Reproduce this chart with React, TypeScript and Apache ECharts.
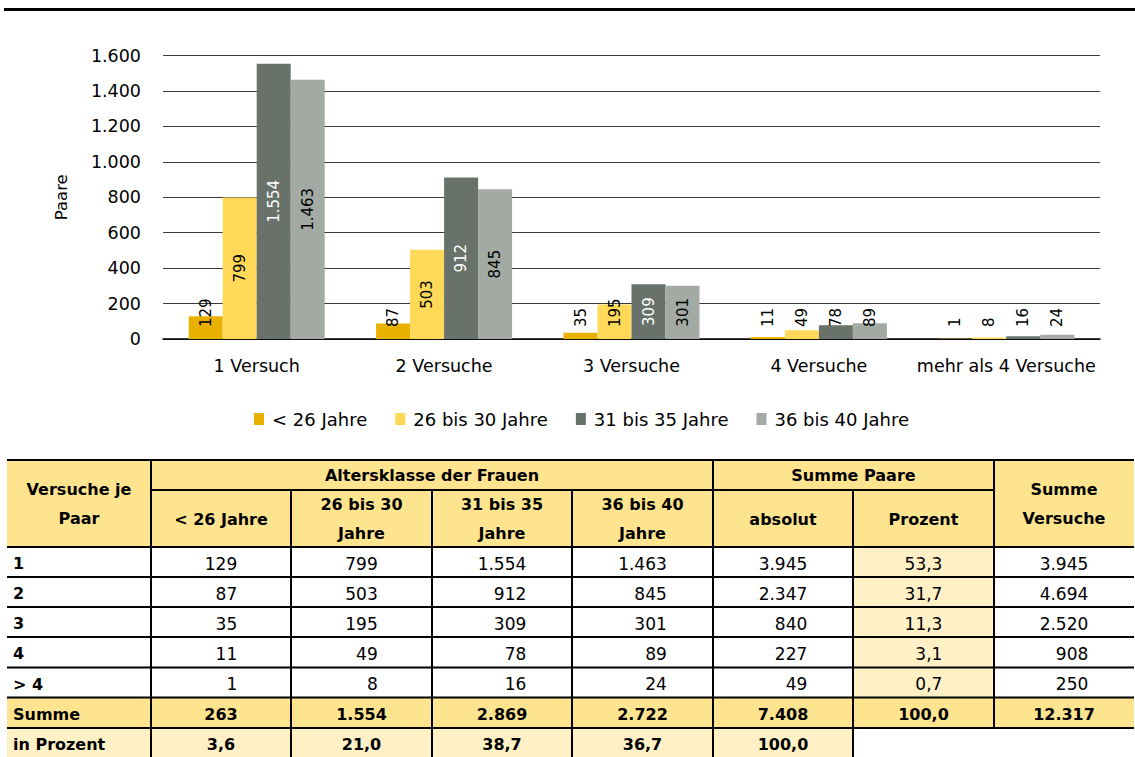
import React, { useEffect, useRef } from "react";
import * as echarts from "echarts";

const FONT = "DejaVu Sans";

// ---- chart data ----
const categories = ["1 Versuch", "2 Versuche", "3 Versuche", "4 Versuche", "mehr als 4 Versuche"];
const seriesNames = ["< 26 Jahre", "26 bis 30 Jahre", "31 bis 35 Jahre", "36 bis 40 Jahre"];
const under26 = [129, 87, 35, 11, 1];
const age26to30 = [799, 503, 195, 49, 8];
const age31to35 = [1554, 912, 309, 78, 16];
const age36to40 = [1463, 845, 301, 89, 24];
const yTicks = { min: 0, max: 1600, interval: 200 };

// ---- table data ----
const rowLabels = ["1", "2", "3", "4", "> 4"];
const sumPairs = [3945, 2347, 840, 227, 49];
const sumPairsPct = ["53,3", "31,7", "11,3", "3,1", "0,7"];
const sumAttempts = [3945, 4694, 2520, 908, 250];
const totals = [263, 1554, 2869, 2722, 7408];
const totalPct = "100,0";
const totalAttempts = 12317;
const pctRow = ["3,6", "21,0", "38,7", "36,7", "100,0"];
const headerTop = ["Versuche je\nPaar", "Altersklasse der Frauen", "Summe Paare", "Summe\nVersuche"];
const headerSub = ["< 26 Jahre", "26 bis 30\nJahre", "31 bis 35\nJahre", "36 bis 40\nJahre", "absolut", "Prozent"];
const footLabels = ["Summe", "in Prozent"];

const COLORS = ["#E8B100", "#FFD957", "#68726A", "#A3AAA4"];
const HEAD_BG = "#FFE490";
const LIGHT_BG = "#FFF0C6";

function fmt(n: number): string {
  return String(n).replace(/\B(?=(\d{3})+(?!\d))/g, ".");
}

function estWidth(s: string, size: number): number {
  let w = 0;
  for (const c of s) w += c === "." || c === "," ? 0.318 : 0.636;
  return w * size;
}

function makeSeries(name: string, values: number[], color: string, dark: boolean) {
  const inColor = dark ? "#ffffff" : "#000000";
  return {
    name,
    type: "bar",
    barWidth: 34,
    barGap: "0%",
    itemStyle: { color },
    emphasis: { disabled: true },
    label: {
      show: true,
      fontSize: 15,
      fontFamily: FONT,
      color: inColor,
      textBorderWidth: 0,
      formatter: (p: any) => fmt(p.value),
    },
    data: values.map((v) => {
      const inside = v >= 300;
      return {
        value: v,
        label: inside
          ? { position: ["50%", "50%"], rotate: 90, align: "center", verticalAlign: "middle", color: inColor, textBorderWidth: 0 }
          : { position: "insideBottom", distance: 12, rotate: 90, align: "left", verticalAlign: "middle", color: "#000000", textBorderWidth: 0 },
      };
    }),
  };
}

function buildTable(): any[] {
  const X = [7, 151, 291, 432, 572, 713, 853, 994, 1134];
  const T0 = 460;
  const T1 = 490;
  const H = 547;
  const rowY = [547, 577, 607, 637, 667.5, 697.5, 728, 757];
  const els: any[] = [];
  const texts: any[] = [];
  const lines: any[] = [];
  const rect = (x: number, y: number, w: number, h: number, fill: string) =>
    els.push({ type: "rect", shape: { x, y, width: w, height: h }, style: { fill }, silent: true });
  const line = (x1: number, y1: number, x2: number, y2: number) =>
    lines.push({ type: "line", shape: { x1, y1, x2, y2 }, style: { stroke: "#000", lineWidth: 2 }, silent: true });
  const text = (x: number, y: number, t: string, bold: boolean, align: string) =>
    texts.push({
      type: "text",
      x,
      y,
      silent: true,
      style: {
        text: t,
        fill: "#000",
        fontFamily: FONT,
        fontSize: bold ? 16 : 17,
        fontWeight: bold ? "bold" : "normal",
        align,
        verticalAlign: "middle",
        lineHeight: 29,
      },
    });

  // backgrounds
  rect(X[0], T0, X[8] - X[0], H - T0, HEAD_BG);
  rect(X[0], rowY[0], X[8] - X[0], rowY[5] - rowY[0], "#fff");
  rect(X[6], rowY[0], X[7] - X[6], rowY[5] - rowY[0], LIGHT_BG);
  rect(X[0], rowY[5], X[8] - X[0], rowY[6] - rowY[5], HEAD_BG);
  rect(X[0], rowY[6], X[6] - X[0], rowY[7] - rowY[6], LIGHT_BG);

  // horizontal lines
  line(X[0], T0, X[8], T0);
  line(X[1], T1, X[7], T1);
  for (let i = 0; i < 7; i++) line(X[0], rowY[i], X[8], rowY[i]);
  // vertical lines
  line(X[1], T0, X[1], 757);
  line(X[5], T0, X[5], 757);
  line(X[7], T0, X[7], rowY[6]);
  [2, 3, 4, 6].forEach((c) => line(X[c], T1, X[c], 757));

  const cx = (c: number) => (X[c] + X[c + 1]) / 2;

  // header
  text(cx(0), 503.5, headerTop[0], true, "center");
  text((X[1] + X[5]) / 2, 475, headerTop[1], true, "center");
  text((X[5] + X[7]) / 2, 475, headerTop[2], true, "center");
  text(cx(7), 503.5, headerTop[3], true, "center");
  headerSub.forEach((h, i) => text(cx(i + 1), 519, h, true, "center"));

  // data rows
  const rows: string[][] = rowLabels.map((_, i) => [
    fmt(under26[i]),
    fmt(age26to30[i]),
    fmt(age31to35[i]),
    fmt(age36to40[i]),
    fmt(sumPairs[i]),
    sumPairsPct[i],
    fmt(sumAttempts[i]),
  ]);
  const rightX = [0, 1, 2, 3, 4, 5, 6].map((c) => {
    const m = Math.max(...rows.map((r) => estWidth(r[c], 17)));
    return cx(c + 1) + m / 2;
  });
  rows.forEach((r, i) => {
    const yc = (rowY[i] + rowY[i + 1]) / 2 + 1.5;
    text(13, yc, rowLabels[i], true, "left");
    r.forEach((s, c) => text(rightX[c], yc, s, false, "right"));
  });

  // totals
  const yS = (rowY[5] + rowY[6]) / 2 + 1.5;
  text(13, yS, footLabels[0], true, "left");
  const totalCells = [...totals.map(fmt), totalPct, fmt(totalAttempts)];
  totalCells.forEach((s, c) => text(cx(c + 1), yS, s, true, "center"));
  const yP = (rowY[6] + rowY[7]) / 2 + 1.5;
  text(13, yP, footLabels[1], true, "left");
  pctRow.forEach((s, c) => text(cx(c + 1), yP, s, true, "center"));

  return [...els, ...lines, ...texts];
}

export default function App() {
  const ref = useRef<HTMLDivElement>(null);
  useEffect(() => {
    if (!ref.current) return;
    const chart = echarts.init(ref.current, undefined, { renderer: "svg" });
    chart.setOption({
      animation: false,
      textStyle: { fontFamily: FONT },
      grid: { left: 163, top: 55.5, width: 937, height: 283.5, containLabel: false },
      legend: {
        data: seriesNames,
        left: 249,
        top: 405,
        itemWidth: 10,
        itemHeight: 12,
        itemGap: 28,
        icon: "rect",
        textStyle: { fontSize: 18, fontFamily: FONT, color: "#000", padding: [0, 0, 0, 3] },
      },
      xAxis: {
        type: "category",
        data: categories,
        axisLine: { lineStyle: { color: "#000", width: 1.5 } },
        axisTick: { show: false },
        axisLabel: { color: "#000", fontSize: 17.5, fontFamily: FONT, margin: 18, interval: 0 },
      },
      yAxis: {
        type: "value",
        min: yTicks.min,
        max: yTicks.max,
        interval: yTicks.interval,
        name: "Paare",
        nameLocation: "middle",
        nameRotate: 90,
        nameGap: 93,
        nameTextStyle: { color: "#000", fontSize: 16.5, fontFamily: FONT },
        axisLine: { show: false },
        axisTick: { show: false },
        axisLabel: { color: "#000", fontSize: 17.5, fontFamily: FONT, margin: 22, formatter: (v: number) => fmt(v) },
        splitLine: { lineStyle: { color: "#3a3a3a", width: 1 } },
      },
      series: [
        makeSeries(seriesNames[0], under26, COLORS[0], false),
        makeSeries(seriesNames[1], age26to30, COLORS[1], false),
        makeSeries(seriesNames[2], age31to35, COLORS[2], true),
        makeSeries(seriesNames[3], age36to40, COLORS[3], false),
      ],
      graphic: {
        elements: [
          { type: "rect", shape: { x: 4, y: 8, width: 1131, height: 3 }, style: { fill: "#000" }, silent: true },
          ...buildTable(),
        ],
      },
    });
    return () => chart.dispose();
  }, []);
  return (
    <div
      ref={ref}
      style={{ position: "absolute", left: 0, top: 0, width: 1135, height: 757, background: "#fff" }}
    />
  );
}
